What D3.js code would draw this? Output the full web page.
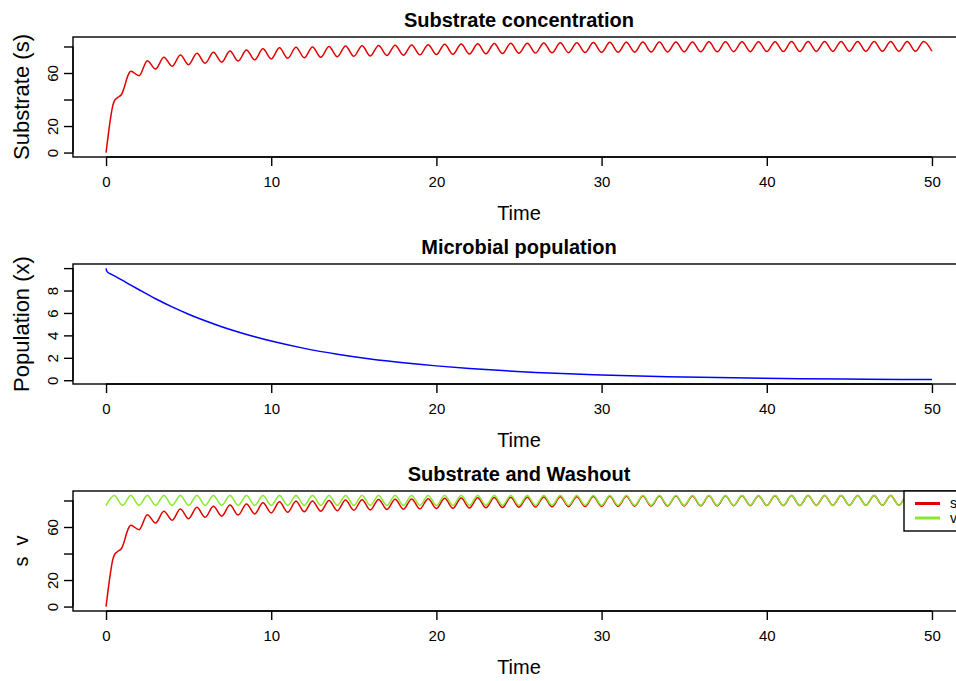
<!DOCTYPE html>
<html>
<head>
<meta charset="utf-8">
<script src="https://cdn.jsdelivr.net/npm/d3@7"></script>
<style>
  body { margin: 0; background: #fff; }
  svg { display: block; font-family: "Liberation Sans", Arial, Helvetica, sans-serif; }
</style>
</head>
<body>
<div id="chart"></div>
<script>
/** Chemostat plots: substrate, population, washout ****/

// Substrate s, first rise (time, value)
var sEarlyTime = [0, 0.1, 0.2, 0.3, 0.4, 0.5, 0.65, 0.8, 0.95, 1.1, 1.25, 1.4, 1.5];
var sEarly     = [0, 10, 19.5, 28, 35, 38.8, 41, 42.3, 44, 49, 55.5, 60, 61.3];

// Substrate s, troughs and peaks from t = 2 to 50 every 0.5
var sWave = [
    58.0, 69.3, 63.0, 71.9, 65.1, 73.6, 66.3, 74.9, 67.3, 75.7,
    68.1, 76.5, 69.0, 77.4, 69.9, 78.2, 70.6, 79.0, 71.1, 79.4,
    71.5, 79.7, 71.9, 80.0, 72.3, 80.3, 72.6, 80.6, 72.9, 80.8,
    73.2, 81.0, 73.4, 81.2, 73.7, 81.4, 73.9, 81.6, 74.1, 81.8,
    74.3, 82.0, 74.5, 82.2, 74.7, 82.4, 74.9, 82.5, 75.0, 82.7,
    75.2, 82.8, 75.3, 82.9, 75.4, 83.0, 75.5, 83.1, 75.6, 83.2,
    75.7, 83.3, 75.8, 83.3, 75.9, 83.4, 75.9, 83.4, 76.0, 83.5,
    76.0, 83.5, 76.1, 83.6, 76.1, 83.6, 76.2, 83.6, 76.2, 83.7,
    76.2, 83.7, 76.3, 83.7, 76.3, 83.7, 76.3, 83.8, 76.3, 83.8,
    76.4, 83.8, 76.4, 83.8, 76.4, 83.8, 76.4
];
var sWaveStart = 2;

// Washout v, troughs and peaks from t = 0 to 50 every 0.5
var vWave = [
    76.2, 83.8, 76.2, 83.8, 76.2, 83.8, 76.2, 83.8, 76.2, 83.8,
    76.2, 83.8, 76.2, 83.8, 76.2, 83.8, 76.2, 83.8, 76.2, 83.8,
    76.2, 83.8, 76.2, 83.8, 76.2, 83.8, 76.2, 83.8, 76.2, 83.8,
    76.2, 83.8, 76.2, 83.8, 76.2, 83.8, 76.2, 83.8, 76.2, 83.8,
    76.2, 83.8, 76.2, 83.8, 76.2, 83.8, 76.2, 83.8, 76.2, 83.8,
    76.2, 83.8, 76.2, 83.8, 76.2, 83.8, 76.2, 83.8, 76.2, 83.8,
    76.2, 83.8, 76.2, 83.8, 76.2, 83.8, 76.2, 83.8, 76.2, 83.8,
    76.2, 83.8, 76.2, 83.8, 76.2, 83.8, 76.2, 83.8, 76.2, 83.8,
    76.2, 83.8, 76.2, 83.8, 76.2, 83.8, 76.2, 83.8, 76.2, 83.8,
    76.2, 83.8, 76.2, 83.8, 76.2, 83.8, 76.2, 83.8, 76.2, 83.8,
    76.2
];
var waveStep = 0.5;

// Population x (time, value)
var xTime = [0, 0.05, 0.14, 0.3, 0.5, 1, 1.5, 2, 3, 4, 5, 6, 7, 8, 9, 10,
             12, 14, 16, 18, 20, 22, 24, 26, 28, 30, 34, 38, 42, 46, 50];
var xPop  = [9.97, 9.72, 9.59, 9.46, 9.3, 8.9, 8.48, 8.07, 7.27, 6.54, 5.89, 5.3, 4.77, 4.3, 3.87, 3.49,
             2.84, 2.32, 1.9, 1.56, 1.28, 1.05, 0.86, 0.7, 0.57, 0.47, 0.32, 0.21, 0.14, 0.09, 0.06];

// Axis ticks; R drops some labels, keep the ones shown
var timeTicks = [0, 10, 20, 30, 40, 50];
var sTicks = [0, 20, 40, 60, 80];
var sTickLabels = [0, 20, 60];
var xTicks = [0, 2, 4, 6, 8, 10];
var xTickLabels = [0, 2, 4, 6, 8];

var legendNames = ["s", "v"];

//**************************************************/

var width = 956;
var height = 681;
var bandHeight = 227;   // one panel per third
var plotTop = 37;
var plotHeight = 120;
var plotLeft = 73;
var plotRight = 965;    // plot box runs past the window edge

var red = "#e00000";
var green = "#8ae82e";
var blue = "#0000ff";

function toPoints(times, values) {
    return times.map(function(t, i) { return { t: t, v: values[i] }; });
}

function wavePoints(values, start) {
    return values.map(function(v, i) { return { t: start + i * waveStep, v: v }; });
}

var sPoints = toPoints(sEarlyTime, sEarly).concat(wavePoints(sWave, sWaveStart));
var vPoints = wavePoints(vWave, 0);
var xPoints = toPoints(xTime, xPop);

// R style range: data extent plus 4% on each side
function padded(ext) {
    var pad = (ext[1] - ext[0]) * 0.04;
    return [ext[0] - pad, ext[1] + pad];
}

var svg = d3.select("#chart").append("svg")
    .attr("width", width)
    .attr("height", height);

var tExtent = d3.extent(sPoints.concat(xPoints), function(d) { return d.t; });
var xScale = d3.scaleLinear().domain(padded(tExtent)).range([plotLeft, plotRight]);

function panel(index, cfg) {
    var top = index * bandHeight + plotTop;
    var bottom = top + plotHeight;
    var g = svg.append("g");

    var allPts = d3.merge(cfg.series.map(function(s) { return s.points; }));
    var yScale = d3.scaleLinear()
        .domain(padded(d3.extent(allPts, function(d) { return d.v; })))
        .range([bottom, top]);

    var line = d3.line()
        .x(function(d) { return xScale(d.t); })
        .y(function(d) { return yScale(d.v); })
        .curve(d3.curveMonotoneX);

    cfg.series.forEach(function(s) {
        g.append("path")
            .attr("d", line(s.points))
            .attr("fill", "none")
            .attr("stroke", s.color)
            .attr("stroke-width", 1.5);
    });

    // box
    g.append("rect")
        .attr("x", plotLeft)
        .attr("y", top)
        .attr("width", plotRight - plotLeft)
        .attr("height", plotHeight)
        .attr("fill", "none")
        .attr("stroke", "#000")
        .attr("stroke-width", 1.4);

    // bottom axis
    var ax = g.append("g")
        .attr("transform", "translate(0," + bottom + ")")
        .call(d3.axisBottom(xScale).tickValues(timeTicks).tickSize(9).tickPadding(0).tickSizeOuter(0));
    ax.select(".domain").remove();
    ax.append("line")
        .attr("x1", xScale(timeTicks[0])).attr("x2", xScale(timeTicks[timeTicks.length - 1]))
        .attr("stroke", "#000").attr("stroke-width", 1.4);
    ax.selectAll(".tick line").attr("stroke-width", 1.4);
    ax.selectAll(".tick text")
        .attr("y", 25).attr("dy", "0.35em")
        .attr("font-size", 15).attr("font-family", null).attr("fill", "#000");

    // left axis, labels turned like R
    var ay = g.append("g")
        .attr("transform", "translate(" + plotLeft + ",0)")
        .call(d3.axisLeft(yScale).tickValues(cfg.ticks).tickSize(9).tickSizeOuter(0)
            .tickFormat(function(d) { return cfg.labels.indexOf(d) >= 0 ? d : ""; }));
    ay.select(".domain").remove();
    ay.append("line")
        .attr("y1", yScale(cfg.ticks[0])).attr("y2", yScale(cfg.ticks[cfg.ticks.length - 1]))
        .attr("stroke", "#000").attr("stroke-width", 1.4);
    ay.selectAll(".tick line").attr("stroke-width", 1.4);
    ay.selectAll(".tick text")
        .attr("transform", "rotate(-90)")
        .attr("x", 0).attr("y", -20).attr("dy", "0.35em")
        .attr("text-anchor", "middle")
        .attr("font-size", 15).attr("font-family", null).attr("fill", "#000");

    var midX = (plotLeft + plotRight) / 2;

    g.append("text")
        .attr("x", midX).attr("y", index * bandHeight + 27)
        .attr("text-anchor", "middle")
        .attr("font-size", 20).attr("font-weight", "bold")
        .text(cfg.title);

    g.append("text")
        .attr("x", midX).attr("y", bottom + 56).attr("dy", "0.35em")
        .attr("text-anchor", "middle")
        .attr("font-size", 20)
        .text("Time");

    g.append("text")
        .attr("transform", "translate(21," + (top + plotHeight / 2) + ") rotate(-90)")
        .attr("dy", "0.35em")
        .attr("text-anchor", "middle")
        .attr("font-size", cfg.ylabSize)
        .attr("xml:space", "preserve")
        .style("white-space", "pre")
        .text(cfg.ylab);

    if (cfg.legend) {
        var lg = g.append("g");
        lg.append("rect")
            .attr("x", 904).attr("y", top)
            .attr("width", plotRight - 904).attr("height", 40)
            .attr("fill", "#fff").attr("stroke", "#000").attr("stroke-width", 1.4);
        cfg.series.forEach(function(s, i) {
            var ly = top + 12.5 + i * 14.5;
            lg.append("line")
                .attr("x1", 915).attr("x2", 940)
                .attr("y1", ly).attr("y2", ly)
                .attr("stroke", s.color).attr("stroke-width", 3);
            lg.append("text")
                .attr("x", 950).attr("y", ly).attr("dy", "0.35em")
                .attr("font-size", 14)
                .text(legendNames[i]);
        });
    }
}

panel(0, {
    title: "Substrate concentration",
    ylab: "Substrate (s)", ylabSize: 22,
    ticks: sTicks, labels: sTickLabels,
    series: [{ points: sPoints, color: red }]
});

panel(1, {
    title: "Microbial population",
    ylab: "Population (x)", ylabSize: 22,
    ticks: xTicks, labels: xTickLabels,
    series: [{ points: xPoints, color: blue }]
});

panel(2, {
    title: "Substrate and Washout",
    ylab: "s  v", ylabSize: 20,
    ticks: sTicks, labels: sTickLabels,
    legend: true,
    series: [{ points: sPoints, color: red }, { points: vPoints, color: green }]
});
</script>
</body>
</html>
